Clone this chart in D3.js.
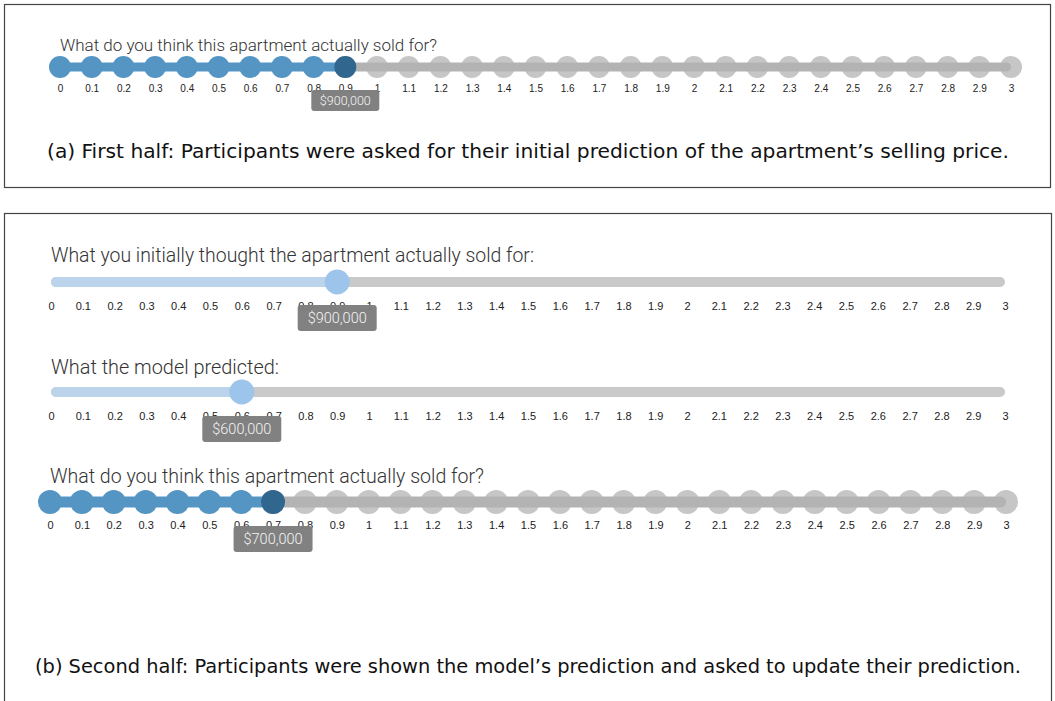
<!DOCTYPE html>
<html>
<head>
<meta charset="utf-8">
<script src="https://d3js.org/d3.v7.min.js"></script>
<style>
  body { margin: 0; background: #fff; }
  svg { display: block; }
</style>
</head>
<body>
<svg width="1055" height="701"></svg>
<script>
// slider ticks (price in millions)
var tickValues = [0, 0.1, 0.2, 0.3, 0.4, 0.5, 0.6, 0.7, 0.8, 0.9, 1, 1.1, 1.2, 1.3, 1.4, 1.5,
                  1.6, 1.7, 1.8, 1.9, 2, 2.1, 2.2, 2.3, 2.4, 2.5, 2.6, 2.7, 2.8, 2.9, 3];
var tickLabels = ["0", "0.1", "0.2", "0.3", "0.4", "0.5", "0.6", "0.7", "0.8", "0.9", "1", "1.1", "1.2", "1.3", "1.4", "1.5",
                  "1.6", "1.7", "1.8", "1.9", "2", "2.1", "2.2", "2.3", "2.4", "2.5", "2.6", "2.7", "2.8", "2.9", "3"];

var questions = ["What do you think this apartment actually sold for?",
                 "What you initially thought the apartment actually sold for:",
                 "What the model predicted:",
                 "What do you think this apartment actually sold for?"];
var sliderValues = [0.9, 0.9, 0.6, 0.7];   // first guess, initial guess, model, updated guess
var sliderKinds = ["dots", "smooth", "smooth", "dots"];

var captions = ["(a) First half: Participants were asked for their initial prediction of the apartment\u2019s selling price.",
                "(b) Second half: Participants were shown the model\u2019s prediction and asked to update their prediction."];

var svg = d3.select("svg");
var price = function(v) { return d3.format("$,")(Math.round(v * 1000000)); };

var blue = "#5495c4", darkBlue = "#31678f", grayDot = "#c6c6c6", grayTrack = "#b3b3b3";
var lightBlue = "#bcd4eb", thumbBlue = "#9dc4ea", smoothGray = "#c9c9c9";

// panel frames
svg.append("rect").attr("x", 4.5).attr("y", 4.5).attr("width", 1046).attr("height", 183)
    .attr("fill", "none").attr("stroke", "#444").attr("stroke-width", 1.2);
svg.append("rect").attr("x", 4.5).attr("y", 213.5).attr("width", 1047).attr("height", 490)
    .attr("fill", "none").attr("stroke", "#444").attr("stroke-width", 1.2);

// layout of each slider
var layout = [
  {x0: 60, x1: 1011, qBase: 51, qLen: 377, y: 67, r: 11, track: 9, qSize: 17, tickSize: 10, labBase: 92,
   box: {w: 68, h: 21, top: 90, font: 12.5}},
  {x0: 51, x1: 1005, qBase: 262, qLen: 483, y: 282, r: 12.5, track: 10, qSize: 19.5, tickSize: 11, labBase: 310,
   box: {w: 79, h: 26, top: 305, font: 14.5}},
  {x0: 51, x1: 1005, qBase: 374, qLen: 228, y: 392, r: 12.5, track: 10, qSize: 19.5, tickSize: 11, labBase: 420,
   box: {w: 79, h: 26, top: 416, font: 14.5}},
  {x0: 50, x1: 1006, qBase: 483, qLen: 434, y: 502, r: 12, track: 11, qSize: 19.5, tickSize: 11, labBase: 529,
   box: {w: 79, h: 26, top: 526, font: 14.5}}
];

layout.forEach(function(L, i) {
  var v = sliderValues[i];
  var x = d3.scaleLinear().domain([0, 3]).range([L.x0, L.x1]);
  var g = svg.append("g");

  g.append("text")
      .attr("x", L.x0).attr("y", L.qBase)
      .attr("font-family", "Roboto, Liberation Sans, Arial, sans-serif")
      .attr("font-weight", 300)
      .attr("font-size", L.qSize)
      .attr("fill", "#333")
      .attr("textLength", L.qLen)
      .attr("lengthAdjust", "spacingAndGlyphs")
      .text(questions[i]);

  if (sliderKinds[i] === "dots") {
    g.selectAll("circle.dot")
      .data(tickValues)
      .enter().append("circle")
        .attr("class", "dot")
        .attr("cx", function(d) { return x(d); })
        .attr("cy", L.y)
        .attr("r", L.r)
        .attr("fill", function(d) { return d < v - 1e-9 ? blue : grayDot; });
    g.append("rect")
        .attr("x", x(v)).attr("y", L.y - L.track / 2)
        .attr("width", x(3) - x(v)).attr("height", L.track)
        .attr("rx", L.track / 2)
        .attr("fill", grayTrack);
    g.append("rect")
        .attr("x", x(0)).attr("y", L.y - L.track / 2)
        .attr("width", x(v) - x(0)).attr("height", L.track)
        .attr("fill", blue);
    g.append("circle")
        .attr("cx", x(v)).attr("cy", L.y).attr("r", L.r)
        .attr("fill", darkBlue);
  } else {
    g.append("rect")
        .attr("x", x(0)).attr("y", L.y - L.track / 2)
        .attr("width", x(3) - x(0)).attr("height", L.track)
        .attr("rx", L.track / 2)
        .attr("fill", smoothGray);
    g.append("rect")
        .attr("x", x(0)).attr("y", L.y - L.track / 2)
        .attr("width", x(v) - x(0)).attr("height", L.track)
        .attr("rx", L.track / 2)
        .attr("fill", lightBlue);
    g.append("circle")
        .attr("cx", x(v)).attr("cy", L.y).attr("r", L.r)
        .attr("fill", thumbBlue);
  }

  // tick labels via axis
  var axis = d3.axisBottom(x)
      .tickValues(tickValues)
      .tickFormat(function(d, j) { return tickLabels[j]; })
      .tickSize(0)
      .tickPadding(0);
  var ax = g.append("g")
      .attr("transform", "translate(0," + L.labBase + ")")
      .call(axis);
  ax.select(".domain").remove();
  ax.selectAll("text")
      .attr("dy", null)
      .attr("y", 0)
      .attr("font-family", "Liberation Sans, Arial, sans-serif")
      .attr("font-size", L.tickSize)
      .attr("fill", "#222");

  // value tooltip
  var B = L.box;
  g.append("rect")
      .attr("x", x(v) - B.w / 2).attr("y", B.top)
      .attr("width", B.w).attr("height", B.h)
      .attr("rx", 3)
      .attr("fill", "#7d7d7d")
      .attr("fill-opacity", 0.97);
  g.append("text")
      .attr("x", x(v)).attr("y", B.top + B.h / 2)
      .attr("dy", "0.36em")
      .attr("text-anchor", "middle")
      .attr("font-family", "Roboto, Liberation Sans, Arial, sans-serif")
      .attr("font-weight", 300)
      .attr("font-size", B.font)
      .attr("fill", "#f4f4f4")
      .text(price(v));
});

// captions
var capPos = [{x0: 47, x1: 1009, y: 158}, {x0: 35, x1: 1021, y: 673}];
captions.forEach(function(c, i) {
  svg.append("text")
      .attr("x", capPos[i].x0).attr("y", capPos[i].y)
      .attr("font-family", "DejaVu Sans Condensed, Liberation Sans Narrow, Noto Sans, sans-serif")
      .attr("font-stretch", "condensed")
      .attr("font-size", 19)
      .attr("fill", "#111")
      .attr("textLength", capPos[i].x1 - capPos[i].x0)
      .attr("lengthAdjust", "spacingAndGlyphs")
      .text(c);
});
</script>
</body>
</html>
